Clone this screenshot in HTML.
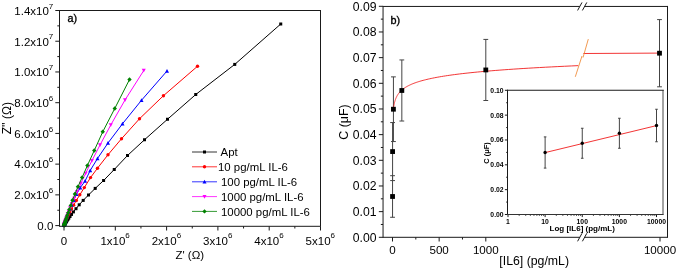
<!DOCTYPE html>
<html lang="en"><head><meta charset="utf-8"><title>Figure</title>
<style>html,body{margin:0;padding:0;background:#fff;}body{width:677px;height:268px;overflow:hidden;}svg{display:block;}</style>
</head><body>
<svg width="677" height="268" viewBox="0 0 677 268" font-family="'Liberation Sans', Arial, sans-serif" font-size="11" fill="#000">
<rect x="0" y="0" width="677" height="268" fill="#fff"/>
<g id="panel-a">
<line x1="55.30" y1="225.60" x2="59.50" y2="225.60" stroke="#1a1a1a" stroke-width="1" />
<line x1="57.30" y1="210.24" x2="59.50" y2="210.24" stroke="#1a1a1a" stroke-width="1" />
<line x1="55.30" y1="194.87" x2="59.50" y2="194.87" stroke="#1a1a1a" stroke-width="1" />
<line x1="57.30" y1="179.51" x2="59.50" y2="179.51" stroke="#1a1a1a" stroke-width="1" />
<line x1="55.30" y1="164.14" x2="59.50" y2="164.14" stroke="#1a1a1a" stroke-width="1" />
<line x1="57.30" y1="148.78" x2="59.50" y2="148.78" stroke="#1a1a1a" stroke-width="1" />
<line x1="55.30" y1="133.41" x2="59.50" y2="133.41" stroke="#1a1a1a" stroke-width="1" />
<line x1="57.30" y1="118.05" x2="59.50" y2="118.05" stroke="#1a1a1a" stroke-width="1" />
<line x1="55.30" y1="102.69" x2="59.50" y2="102.69" stroke="#1a1a1a" stroke-width="1" />
<line x1="57.30" y1="87.32" x2="59.50" y2="87.32" stroke="#1a1a1a" stroke-width="1" />
<line x1="55.30" y1="71.96" x2="59.50" y2="71.96" stroke="#1a1a1a" stroke-width="1" />
<line x1="57.30" y1="56.59" x2="59.50" y2="56.59" stroke="#1a1a1a" stroke-width="1" />
<line x1="55.30" y1="41.23" x2="59.50" y2="41.23" stroke="#1a1a1a" stroke-width="1" />
<line x1="57.30" y1="25.86" x2="59.50" y2="25.86" stroke="#1a1a1a" stroke-width="1" />
<line x1="55.30" y1="10.50" x2="59.50" y2="10.50" stroke="#1a1a1a" stroke-width="1" />
<line x1="64.00" y1="226.30" x2="64.00" y2="230.50" stroke="#1a1a1a" stroke-width="1" />
<line x1="89.65" y1="226.30" x2="89.65" y2="228.50" stroke="#1a1a1a" stroke-width="1" />
<line x1="115.30" y1="226.30" x2="115.30" y2="230.50" stroke="#1a1a1a" stroke-width="1" />
<line x1="140.95" y1="226.30" x2="140.95" y2="228.50" stroke="#1a1a1a" stroke-width="1" />
<line x1="166.60" y1="226.30" x2="166.60" y2="230.50" stroke="#1a1a1a" stroke-width="1" />
<line x1="192.25" y1="226.30" x2="192.25" y2="228.50" stroke="#1a1a1a" stroke-width="1" />
<line x1="217.90" y1="226.30" x2="217.90" y2="230.50" stroke="#1a1a1a" stroke-width="1" />
<line x1="243.55" y1="226.30" x2="243.55" y2="228.50" stroke="#1a1a1a" stroke-width="1" />
<line x1="269.20" y1="226.30" x2="269.20" y2="230.50" stroke="#1a1a1a" stroke-width="1" />
<line x1="294.85" y1="226.30" x2="294.85" y2="228.50" stroke="#1a1a1a" stroke-width="1" />
<line x1="320.50" y1="226.30" x2="320.50" y2="230.50" stroke="#1a1a1a" stroke-width="1" />
<text x="53.3" y="229.90" text-anchor="end" font-size="11.5">0.0</text>
<text x="53.3" y="199.17" text-anchor="end" font-size="11.5">2.0x10<tspan dy="-6.2" font-size="8">6</tspan></text>
<text x="53.3" y="168.44" text-anchor="end" font-size="11.5">4.0x10<tspan dy="-6.2" font-size="8">6</tspan></text>
<text x="53.3" y="137.71" text-anchor="end" font-size="11.5">6.0x10<tspan dy="-6.2" font-size="8">6</tspan></text>
<text x="53.3" y="106.99" text-anchor="end" font-size="11.5">8.0x10<tspan dy="-6.2" font-size="8">6</tspan></text>
<text x="53.3" y="76.26" text-anchor="end" font-size="11.5">1.0x10<tspan dy="-6.2" font-size="8">7</tspan></text>
<text x="53.3" y="45.53" text-anchor="end" font-size="11.5">1.2x10<tspan dy="-6.2" font-size="8">7</tspan></text>
<text x="53.3" y="14.80" text-anchor="end" font-size="11.5">1.4x10<tspan dy="-6.2" font-size="8">7</tspan></text>
<text x="64.00" y="244.5" text-anchor="middle" font-size="11.5">0</text>
<text x="115.10" y="244.5" text-anchor="middle" font-size="11.5">1x10<tspan dy="-6.2" font-size="8">6</tspan></text>
<text x="166.40" y="244.5" text-anchor="middle" font-size="11.5">2x10<tspan dy="-6.2" font-size="8">6</tspan></text>
<text x="217.70" y="244.5" text-anchor="middle" font-size="11.5">3x10<tspan dy="-6.2" font-size="8">6</tspan></text>
<text x="269.00" y="244.5" text-anchor="middle" font-size="11.5">4x10<tspan dy="-6.2" font-size="8">6</tspan></text>
<text x="320.30" y="244.5" text-anchor="middle" font-size="11.5">5x10<tspan dy="-6.2" font-size="8">6</tspan></text>
<text x="189.8" y="259.2" text-anchor="middle" font-size="11.5">Z' (Ω)</text>
<text transform="translate(10.8,118.2) rotate(-90)" text-anchor="middle" font-size="12">Z'' (Ω)</text>
<text x="67.6" y="22.3" font-size="10.8" stroke="#000" stroke-width="0.35">a)</text>
<polyline points="280.75,24.00 234.75,64.40 195.75,94.50 167.50,119.25 144.50,139.75 127.50,155.50 114.25,169.50 103.60,180.50 95.20,188.40 88.50,195.00 83.20,200.40 79.20,204.80 76.00,208.70 73.40,211.90 71.52,214.43 70.02,216.50 68.81,218.18 67.85,219.56 67.08,220.67 66.46,221.59 65.97,222.33 65.58,222.93 65.26,223.43 65.01,223.83 64.81,224.16 64.65,224.42 64.52,224.64 64.41,224.82 64.33,224.96 64.26,225.08 64.21,225.18 64.17,225.26" fill="none" stroke="#000000" stroke-width="1"/>
<rect x="279.25" y="22.50" width="3.00" height="3.00" fill="#000000"/>
<rect x="233.25" y="62.90" width="3.00" height="3.00" fill="#000000"/>
<rect x="194.25" y="93.00" width="3.00" height="3.00" fill="#000000"/>
<rect x="166.00" y="117.75" width="3.00" height="3.00" fill="#000000"/>
<rect x="143.00" y="138.25" width="3.00" height="3.00" fill="#000000"/>
<rect x="126.00" y="154.00" width="3.00" height="3.00" fill="#000000"/>
<rect x="112.75" y="168.00" width="3.00" height="3.00" fill="#000000"/>
<rect x="102.10" y="179.00" width="3.00" height="3.00" fill="#000000"/>
<rect x="93.70" y="186.90" width="3.00" height="3.00" fill="#000000"/>
<rect x="87.00" y="193.50" width="3.00" height="3.00" fill="#000000"/>
<rect x="81.70" y="198.90" width="3.00" height="3.00" fill="#000000"/>
<rect x="77.70" y="203.30" width="3.00" height="3.00" fill="#000000"/>
<rect x="74.50" y="207.20" width="3.00" height="3.00" fill="#000000"/>
<rect x="71.90" y="210.40" width="3.00" height="3.00" fill="#000000"/>
<rect x="70.02" y="212.93" width="3.00" height="3.00" fill="#000000"/>
<rect x="68.52" y="215.00" width="3.00" height="3.00" fill="#000000"/>
<rect x="67.31" y="216.68" width="3.00" height="3.00" fill="#000000"/>
<rect x="66.35" y="218.06" width="3.00" height="3.00" fill="#000000"/>
<rect x="65.58" y="219.17" width="3.00" height="3.00" fill="#000000"/>
<rect x="64.96" y="220.09" width="3.00" height="3.00" fill="#000000"/>
<rect x="64.47" y="220.83" width="3.00" height="3.00" fill="#000000"/>
<rect x="64.08" y="221.43" width="3.00" height="3.00" fill="#000000"/>
<rect x="63.76" y="221.93" width="3.00" height="3.00" fill="#000000"/>
<rect x="63.51" y="222.33" width="3.00" height="3.00" fill="#000000"/>
<rect x="63.31" y="222.66" width="3.00" height="3.00" fill="#000000"/>
<rect x="63.15" y="222.92" width="3.00" height="3.00" fill="#000000"/>
<rect x="63.02" y="223.14" width="3.00" height="3.00" fill="#000000"/>
<rect x="62.91" y="223.32" width="3.00" height="3.00" fill="#000000"/>
<rect x="62.83" y="223.46" width="3.00" height="3.00" fill="#000000"/>
<rect x="62.76" y="223.58" width="3.00" height="3.00" fill="#000000"/>
<rect x="62.71" y="223.68" width="3.00" height="3.00" fill="#000000"/>
<rect x="62.67" y="223.76" width="3.00" height="3.00" fill="#000000"/>
<polyline points="197.50,66.25 163.40,95.75 139.50,118.75 121.50,138.75 108.00,154.75 97.50,168.20 90.50,177.60 84.30,187.60 79.80,194.80 76.32,200.50 73.61,205.14 71.50,208.93 69.85,212.01 68.56,214.53 67.56,216.57 66.78,218.24 66.16,219.60 65.69,220.71 65.32,221.62 65.03,222.35 64.80,222.95 64.63,223.44 64.49,223.84 64.38,224.17 64.30,224.43 64.23,224.65 64.18,224.82 64.14,224.97 64.11,225.09" fill="none" stroke="#ff0000" stroke-width="1"/>
<circle cx="197.50" cy="66.25" r="1.70" fill="#ff0000"/>
<circle cx="163.40" cy="95.75" r="1.70" fill="#ff0000"/>
<circle cx="139.50" cy="118.75" r="1.70" fill="#ff0000"/>
<circle cx="121.50" cy="138.75" r="1.70" fill="#ff0000"/>
<circle cx="108.00" cy="154.75" r="1.70" fill="#ff0000"/>
<circle cx="97.50" cy="168.20" r="1.70" fill="#ff0000"/>
<circle cx="90.50" cy="177.60" r="1.70" fill="#ff0000"/>
<circle cx="84.30" cy="187.60" r="1.70" fill="#ff0000"/>
<circle cx="79.80" cy="194.80" r="1.70" fill="#ff0000"/>
<circle cx="76.32" cy="200.50" r="1.70" fill="#ff0000"/>
<circle cx="73.61" cy="205.14" r="1.70" fill="#ff0000"/>
<circle cx="71.50" cy="208.93" r="1.70" fill="#ff0000"/>
<circle cx="69.85" cy="212.01" r="1.70" fill="#ff0000"/>
<circle cx="68.56" cy="214.53" r="1.70" fill="#ff0000"/>
<circle cx="67.56" cy="216.57" r="1.70" fill="#ff0000"/>
<circle cx="66.78" cy="218.24" r="1.70" fill="#ff0000"/>
<circle cx="66.16" cy="219.60" r="1.70" fill="#ff0000"/>
<circle cx="65.69" cy="220.71" r="1.70" fill="#ff0000"/>
<circle cx="65.32" cy="221.62" r="1.70" fill="#ff0000"/>
<circle cx="65.03" cy="222.35" r="1.70" fill="#ff0000"/>
<circle cx="64.80" cy="222.95" r="1.70" fill="#ff0000"/>
<circle cx="64.63" cy="223.44" r="1.70" fill="#ff0000"/>
<circle cx="64.49" cy="223.84" r="1.70" fill="#ff0000"/>
<circle cx="64.38" cy="224.17" r="1.70" fill="#ff0000"/>
<circle cx="64.30" cy="224.43" r="1.70" fill="#ff0000"/>
<circle cx="64.23" cy="224.65" r="1.70" fill="#ff0000"/>
<circle cx="64.18" cy="224.82" r="1.70" fill="#ff0000"/>
<circle cx="64.14" cy="224.97" r="1.70" fill="#ff0000"/>
<circle cx="64.11" cy="225.09" r="1.70" fill="#ff0000"/>
<polyline points="167.00,71.00 141.50,100.25 122.50,123.75 108.00,143.00 97.50,158.50 90.20,170.50 85.10,181.00 80.25,187.70 76.50,194.30 73.75,200.18 71.61,204.96 69.93,208.84 68.63,211.99 67.61,214.55 66.81,216.63 66.20,218.31 65.71,219.68 65.34,220.80 65.04,221.70 64.81,222.43 64.63,223.03 64.49,223.51 64.39,223.90 64.30,224.22 64.23,224.48 64.18,224.69 64.14,224.86 64.11,225.00 64.09,225.11" fill="none" stroke="#0000ff" stroke-width="1"/>
<polygon points="167.00,68.90 169.00,72.70 165.00,72.70" fill="#0000ff"/>
<polygon points="141.50,98.15 143.50,101.95 139.50,101.95" fill="#0000ff"/>
<polygon points="122.50,121.65 124.50,125.45 120.50,125.45" fill="#0000ff"/>
<polygon points="108.00,140.90 110.00,144.70 106.00,144.70" fill="#0000ff"/>
<polygon points="97.50,156.40 99.50,160.20 95.50,160.20" fill="#0000ff"/>
<polygon points="90.20,168.40 92.20,172.20 88.20,172.20" fill="#0000ff"/>
<polygon points="85.10,178.90 87.10,182.70 83.10,182.70" fill="#0000ff"/>
<polygon points="80.25,185.60 82.25,189.40 78.25,189.40" fill="#0000ff"/>
<polygon points="76.50,192.20 78.50,196.00 74.50,196.00" fill="#0000ff"/>
<polygon points="73.75,198.08 75.75,201.88 71.75,201.88" fill="#0000ff"/>
<polygon points="71.61,202.86 73.61,206.66 69.61,206.66" fill="#0000ff"/>
<polygon points="69.93,206.74 71.93,210.54 67.93,210.54" fill="#0000ff"/>
<polygon points="68.63,209.89 70.63,213.69 66.63,213.69" fill="#0000ff"/>
<polygon points="67.61,212.45 69.61,216.25 65.61,216.25" fill="#0000ff"/>
<polygon points="66.81,214.53 68.81,218.33 64.81,218.33" fill="#0000ff"/>
<polygon points="66.20,216.21 68.20,220.01 64.20,220.01" fill="#0000ff"/>
<polygon points="65.71,217.58 67.71,221.38 63.71,221.38" fill="#0000ff"/>
<polygon points="65.34,218.70 67.34,222.50 63.34,222.50" fill="#0000ff"/>
<polygon points="65.04,219.60 67.04,223.40 63.04,223.40" fill="#0000ff"/>
<polygon points="64.81,220.33 66.81,224.13 62.81,224.13" fill="#0000ff"/>
<polygon points="64.63,220.93 66.63,224.73 62.63,224.73" fill="#0000ff"/>
<polygon points="64.49,221.41 66.49,225.21 62.49,225.21" fill="#0000ff"/>
<polygon points="64.39,221.80 66.39,225.60 62.39,225.60" fill="#0000ff"/>
<polygon points="64.30,222.12 66.30,225.92 62.30,225.92" fill="#0000ff"/>
<polygon points="64.23,222.38 66.23,226.18 62.23,226.18" fill="#0000ff"/>
<polygon points="64.18,222.59 66.18,226.39 62.18,226.39" fill="#0000ff"/>
<polygon points="64.14,222.76 66.14,226.56 62.14,226.56" fill="#0000ff"/>
<polygon points="64.11,222.90 66.11,226.70 62.11,226.70" fill="#0000ff"/>
<polygon points="64.09,223.01 66.09,226.81 62.09,226.81" fill="#0000ff"/>
<polyline points="143.75,70.50 125.00,100.00 110.75,125.00 100.00,145.00 91.90,160.72 85.62,173.37 80.76,183.55 76.99,191.75 74.06,198.35 71.80,203.67 70.05,207.94 68.69,211.39 67.63,214.16 66.81,216.39 66.18,218.19 65.69,219.63 65.31,220.80 65.02,221.73 64.79,222.49 64.61,223.09 64.47,223.58 64.37,223.98 64.28,224.29 64.22,224.55 64.17,224.75 64.13,224.92 64.10,225.05 64.08,225.16 64.06,225.24 64.05,225.31" fill="none" stroke="#ff00ff" stroke-width="1"/>
<polygon points="143.75,72.60 145.75,68.80 141.75,68.80" fill="#ff00ff"/>
<polygon points="125.00,102.10 127.00,98.30 123.00,98.30" fill="#ff00ff"/>
<polygon points="110.75,127.10 112.75,123.30 108.75,123.30" fill="#ff00ff"/>
<polygon points="100.00,147.10 102.00,143.30 98.00,143.30" fill="#ff00ff"/>
<polygon points="91.90,162.82 93.90,159.02 89.90,159.02" fill="#ff00ff"/>
<polygon points="85.62,175.47 87.62,171.67 83.62,171.67" fill="#ff00ff"/>
<polygon points="80.76,185.65 82.76,181.85 78.76,181.85" fill="#ff00ff"/>
<polygon points="76.99,193.85 78.99,190.05 74.99,190.05" fill="#ff00ff"/>
<polygon points="74.06,200.45 76.06,196.65 72.06,196.65" fill="#ff00ff"/>
<polygon points="71.80,205.77 73.80,201.97 69.80,201.97" fill="#ff00ff"/>
<polygon points="70.05,210.04 72.05,206.24 68.05,206.24" fill="#ff00ff"/>
<polygon points="68.69,213.49 70.69,209.69 66.69,209.69" fill="#ff00ff"/>
<polygon points="67.63,216.26 69.63,212.46 65.63,212.46" fill="#ff00ff"/>
<polygon points="66.81,218.49 68.81,214.69 64.81,214.69" fill="#ff00ff"/>
<polygon points="66.18,220.29 68.18,216.49 64.18,216.49" fill="#ff00ff"/>
<polygon points="65.69,221.73 67.69,217.93 63.69,217.93" fill="#ff00ff"/>
<polygon points="65.31,222.90 67.31,219.10 63.31,219.10" fill="#ff00ff"/>
<polygon points="65.02,223.83 67.02,220.03 63.02,220.03" fill="#ff00ff"/>
<polygon points="64.79,224.59 66.79,220.79 62.79,220.79" fill="#ff00ff"/>
<polygon points="64.61,225.19 66.61,221.39 62.61,221.39" fill="#ff00ff"/>
<polygon points="64.47,225.68 66.47,221.88 62.47,221.88" fill="#ff00ff"/>
<polygon points="64.37,226.08 66.37,222.28 62.37,222.28" fill="#ff00ff"/>
<polygon points="64.28,226.39 66.28,222.59 62.28,222.59" fill="#ff00ff"/>
<polygon points="64.22,226.65 66.22,222.85 62.22,222.85" fill="#ff00ff"/>
<polygon points="64.17,226.85 66.17,223.05 62.17,223.05" fill="#ff00ff"/>
<polygon points="64.13,227.02 66.13,223.22 62.13,223.22" fill="#ff00ff"/>
<polygon points="64.10,227.15 66.10,223.35 62.10,223.35" fill="#ff00ff"/>
<polygon points="64.08,227.26 66.08,223.46 62.08,223.46" fill="#ff00ff"/>
<polygon points="64.06,227.34 66.06,223.54 62.06,223.54" fill="#ff00ff"/>
<polygon points="64.05,227.41 66.05,223.61 62.05,223.61" fill="#ff00ff"/>
<polyline points="129.50,79.50 114.75,108.50 102.75,131.75 94.25,150.50 87.40,165.50 82.10,177.50 77.90,186.80 74.90,194.00 72.50,200.25 70.75,205.40 69.33,209.44 68.21,212.67 67.33,215.26 66.63,217.33 66.08,218.98 65.64,220.30 65.30,221.36 65.02,222.21 64.81,222.89 64.64,223.43 64.50,223.86 64.40,224.21 64.32,224.49 64.25,224.71 64.20,224.89 64.16,225.03 64.12,225.15 64.10,225.24 64.08,225.31 64.06,225.37" fill="none" stroke="#008000" stroke-width="1"/>
<polygon points="129.50,77.30 131.70,79.50 129.50,81.70 127.30,79.50" fill="#008000"/>
<polygon points="114.75,106.30 116.95,108.50 114.75,110.70 112.55,108.50" fill="#008000"/>
<polygon points="102.75,129.55 104.95,131.75 102.75,133.95 100.55,131.75" fill="#008000"/>
<polygon points="94.25,148.30 96.45,150.50 94.25,152.70 92.05,150.50" fill="#008000"/>
<polygon points="87.40,163.30 89.60,165.50 87.40,167.70 85.20,165.50" fill="#008000"/>
<polygon points="82.10,175.30 84.30,177.50 82.10,179.70 79.90,177.50" fill="#008000"/>
<polygon points="77.90,184.60 80.10,186.80 77.90,189.00 75.70,186.80" fill="#008000"/>
<polygon points="74.90,191.80 77.10,194.00 74.90,196.20 72.70,194.00" fill="#008000"/>
<polygon points="72.50,198.05 74.70,200.25 72.50,202.45 70.30,200.25" fill="#008000"/>
<polygon points="70.75,203.20 72.95,205.40 70.75,207.60 68.55,205.40" fill="#008000"/>
<polygon points="69.33,207.24 71.53,209.44 69.33,211.64 67.13,209.44" fill="#008000"/>
<polygon points="68.21,210.47 70.41,212.67 68.21,214.87 66.01,212.67" fill="#008000"/>
<polygon points="67.33,213.06 69.53,215.26 67.33,217.46 65.13,215.26" fill="#008000"/>
<polygon points="66.63,215.13 68.83,217.33 66.63,219.53 64.43,217.33" fill="#008000"/>
<polygon points="66.08,216.78 68.28,218.98 66.08,221.18 63.88,218.98" fill="#008000"/>
<polygon points="65.64,218.10 67.84,220.30 65.64,222.50 63.44,220.30" fill="#008000"/>
<polygon points="65.30,219.16 67.50,221.36 65.30,223.56 63.10,221.36" fill="#008000"/>
<polygon points="65.02,220.01 67.22,222.21 65.02,224.41 62.82,222.21" fill="#008000"/>
<polygon points="64.81,220.69 67.01,222.89 64.81,225.09 62.61,222.89" fill="#008000"/>
<polygon points="64.64,221.23 66.84,223.43 64.64,225.63 62.44,223.43" fill="#008000"/>
<polygon points="64.50,221.66 66.70,223.86 64.50,226.06 62.30,223.86" fill="#008000"/>
<polygon points="64.40,222.01 66.60,224.21 64.40,226.41 62.20,224.21" fill="#008000"/>
<polygon points="64.32,222.29 66.52,224.49 64.32,226.69 62.12,224.49" fill="#008000"/>
<polygon points="64.25,222.51 66.45,224.71 64.25,226.91 62.05,224.71" fill="#008000"/>
<polygon points="64.20,222.69 66.40,224.89 64.20,227.09 62.00,224.89" fill="#008000"/>
<polygon points="64.16,222.83 66.36,225.03 64.16,227.23 61.96,225.03" fill="#008000"/>
<polygon points="64.12,222.95 66.32,225.15 64.12,227.35 61.92,225.15" fill="#008000"/>
<polygon points="64.10,223.04 66.30,225.24 64.10,227.44 61.90,225.24" fill="#008000"/>
<polygon points="64.08,223.11 66.28,225.31 64.08,227.51 61.88,225.31" fill="#008000"/>
<polygon points="64.06,223.17 66.26,225.37 64.06,227.57 61.86,225.37" fill="#008000"/>
<rect x="59.5" y="10.5" width="261.0" height="215.8" fill="none" stroke="#1a1a1a" stroke-width="1"/>
<line x1="192.00" y1="152.00" x2="217.00" y2="152.00" stroke="#000000" stroke-width="0.8" />
<rect x="203.00" y="150.50" width="3.00" height="3.00" fill="#000000"/>
<text x="220.6" y="156.10" font-size="11.4">Apt</text>
<line x1="192.00" y1="166.80" x2="217.00" y2="166.80" stroke="#ff0000" stroke-width="0.8" />
<circle cx="204.50" cy="166.80" r="1.70" fill="#ff0000"/>
<text x="218.0" y="170.90" font-size="11.4">10 pg/mL IL-6</text>
<line x1="192.00" y1="181.80" x2="217.00" y2="181.80" stroke="#0000ff" stroke-width="0.8" />
<polygon points="204.50,179.70 206.50,183.50 202.50,183.50" fill="#0000ff"/>
<text x="221.0" y="185.90" font-size="11.4">100 pg/mL IL-6</text>
<line x1="192.00" y1="196.60" x2="217.00" y2="196.60" stroke="#ff00ff" stroke-width="0.8" />
<polygon points="204.50,198.70 206.50,194.90 202.50,194.90" fill="#ff00ff"/>
<text x="221.0" y="200.70" font-size="11.4">1000 pg/mL IL-6</text>
<line x1="192.00" y1="211.40" x2="217.00" y2="211.40" stroke="#008000" stroke-width="0.8" />
<polygon points="204.50,209.20 206.70,211.40 204.50,213.60 202.30,211.40" fill="#008000"/>
<text x="221.0" y="215.50" font-size="11.4">10000 pg/mL IL-6</text>
</g>
<g id="panel-b">
<line x1="378.85" y1="237.30" x2="383.05" y2="237.30" stroke="#1a1a1a" stroke-width="1" />
<line x1="380.85" y1="224.47" x2="383.05" y2="224.47" stroke="#1a1a1a" stroke-width="1" />
<text x="376.5" y="241.70" text-anchor="end" font-size="12.2">0.00</text>
<line x1="378.85" y1="211.63" x2="383.05" y2="211.63" stroke="#1a1a1a" stroke-width="1" />
<line x1="380.85" y1="198.80" x2="383.05" y2="198.80" stroke="#1a1a1a" stroke-width="1" />
<text x="376.5" y="216.03" text-anchor="end" font-size="12.2">0.01</text>
<line x1="378.85" y1="185.97" x2="383.05" y2="185.97" stroke="#1a1a1a" stroke-width="1" />
<line x1="380.85" y1="173.13" x2="383.05" y2="173.13" stroke="#1a1a1a" stroke-width="1" />
<text x="376.5" y="190.37" text-anchor="end" font-size="12.2">0.02</text>
<line x1="378.85" y1="160.30" x2="383.05" y2="160.30" stroke="#1a1a1a" stroke-width="1" />
<line x1="380.85" y1="147.47" x2="383.05" y2="147.47" stroke="#1a1a1a" stroke-width="1" />
<text x="376.5" y="164.70" text-anchor="end" font-size="12.2">0.03</text>
<line x1="378.85" y1="134.63" x2="383.05" y2="134.63" stroke="#1a1a1a" stroke-width="1" />
<line x1="380.85" y1="121.80" x2="383.05" y2="121.80" stroke="#1a1a1a" stroke-width="1" />
<text x="376.5" y="139.03" text-anchor="end" font-size="12.2">0.04</text>
<line x1="378.85" y1="108.97" x2="383.05" y2="108.97" stroke="#1a1a1a" stroke-width="1" />
<line x1="380.85" y1="96.13" x2="383.05" y2="96.13" stroke="#1a1a1a" stroke-width="1" />
<text x="376.5" y="113.37" text-anchor="end" font-size="12.2">0.05</text>
<line x1="378.85" y1="83.30" x2="383.05" y2="83.30" stroke="#1a1a1a" stroke-width="1" />
<line x1="380.85" y1="70.47" x2="383.05" y2="70.47" stroke="#1a1a1a" stroke-width="1" />
<text x="376.5" y="87.70" text-anchor="end" font-size="12.2">0.06</text>
<line x1="378.85" y1="57.63" x2="383.05" y2="57.63" stroke="#1a1a1a" stroke-width="1" />
<line x1="380.85" y1="44.80" x2="383.05" y2="44.80" stroke="#1a1a1a" stroke-width="1" />
<text x="376.5" y="62.03" text-anchor="end" font-size="12.2">0.07</text>
<line x1="378.85" y1="31.97" x2="383.05" y2="31.97" stroke="#1a1a1a" stroke-width="1" />
<line x1="380.85" y1="19.13" x2="383.05" y2="19.13" stroke="#1a1a1a" stroke-width="1" />
<text x="376.5" y="36.37" text-anchor="end" font-size="12.2">0.08</text>
<line x1="378.85" y1="6.30" x2="383.05" y2="6.30" stroke="#1a1a1a" stroke-width="1" />
<text x="376.5" y="10.70" text-anchor="end" font-size="12.2">0.09</text>
<line x1="392.50" y1="237.30" x2="392.50" y2="241.50" stroke="#1a1a1a" stroke-width="1" />
<text x="392.50" y="254.0" text-anchor="middle" font-size="11.6">0</text>
<line x1="439.15" y1="237.30" x2="439.15" y2="241.50" stroke="#1a1a1a" stroke-width="1" />
<text x="439.15" y="254.0" text-anchor="middle" font-size="11.6">500</text>
<line x1="485.80" y1="237.30" x2="485.80" y2="241.50" stroke="#1a1a1a" stroke-width="1" />
<text x="485.80" y="254.0" text-anchor="middle" font-size="11.6">1000</text>
<line x1="415.82" y1="237.30" x2="415.82" y2="239.50" stroke="#1a1a1a" stroke-width="1" />
<line x1="462.48" y1="237.30" x2="462.48" y2="239.50" stroke="#1a1a1a" stroke-width="1" />
<line x1="660.00" y1="237.30" x2="660.00" y2="241.50" stroke="#1a1a1a" stroke-width="1" />
<text x="660" y="254.0" text-anchor="middle" font-size="11.6">10000</text>
<text x="534.2" y="265.2" text-anchor="middle" font-size="12.3">[IL6] (pg/mL)</text>
<text transform="translate(348.3,122) rotate(-90)" text-anchor="middle" font-size="12.4">C (μF)</text>
<text x="390.6" y="23.6" font-size="10.8" stroke="#000" stroke-width="0.35">b)</text>
<line x1="383.05" y1="5.95" x2="383.05" y2="237.80" stroke="#1a1a1a" stroke-width="1" />
<line x1="667.50" y1="5.95" x2="667.50" y2="237.80" stroke="#1a1a1a" stroke-width="1" />
<line x1="383.05" y1="6.45" x2="579.80" y2="6.45" stroke="#1a1a1a" stroke-width="1" />
<line x1="584.60" y1="6.45" x2="667.50" y2="6.45" stroke="#1a1a1a" stroke-width="1" />
<line x1="383.05" y1="237.30" x2="579.80" y2="237.30" stroke="#1a1a1a" stroke-width="1" />
<line x1="584.60" y1="237.30" x2="667.50" y2="237.30" stroke="#1a1a1a" stroke-width="1" />
<line x1="577.60" y1="10.45" x2="582.00" y2="2.45" stroke="#1a1a1a" stroke-width="1" />
<line x1="582.40" y1="10.45" x2="586.80" y2="2.45" stroke="#1a1a1a" stroke-width="1" />
<line x1="577.60" y1="241.30" x2="582.00" y2="233.30" stroke="#1a1a1a" stroke-width="1" />
<line x1="582.40" y1="241.30" x2="586.80" y2="233.30" stroke="#1a1a1a" stroke-width="1" />
<line x1="392.55" y1="175.70" x2="392.55" y2="217.28" stroke="#444" stroke-width="1" />
<line x1="390.15" y1="175.70" x2="394.95" y2="175.70" stroke="#444" stroke-width="1" />
<line x1="390.15" y1="217.28" x2="394.95" y2="217.28" stroke="#444" stroke-width="1" />
<line x1="392.59" y1="122.57" x2="392.59" y2="180.58" stroke="#444" stroke-width="1" />
<line x1="390.19" y1="122.57" x2="394.99" y2="122.57" stroke="#444" stroke-width="1" />
<line x1="390.19" y1="180.58" x2="394.99" y2="180.58" stroke="#444" stroke-width="1" />
<line x1="393.43" y1="76.88" x2="393.43" y2="141.56" stroke="#444" stroke-width="1" />
<line x1="391.03" y1="76.88" x2="395.83" y2="76.88" stroke="#444" stroke-width="1" />
<line x1="391.03" y1="141.56" x2="395.83" y2="141.56" stroke="#444" stroke-width="1" />
<line x1="401.83" y1="59.94" x2="401.83" y2="121.03" stroke="#444" stroke-width="1" />
<line x1="399.43" y1="59.94" x2="404.23" y2="59.94" stroke="#444" stroke-width="1" />
<line x1="399.43" y1="121.03" x2="404.23" y2="121.03" stroke="#444" stroke-width="1" />
<line x1="485.80" y1="39.41" x2="485.80" y2="100.50" stroke="#444" stroke-width="1" />
<line x1="483.40" y1="39.41" x2="488.20" y2="39.41" stroke="#444" stroke-width="1" />
<line x1="483.40" y1="100.50" x2="488.20" y2="100.50" stroke="#444" stroke-width="1" />
<line x1="659.50" y1="19.60" x2="659.50" y2="86.80" stroke="#444" stroke-width="1" />
<line x1="657.10" y1="19.60" x2="661.90" y2="19.60" stroke="#444" stroke-width="1" />
<line x1="657.10" y1="86.80" x2="661.90" y2="86.80" stroke="#444" stroke-width="1" />
<polyline points="393.43,108.89 393.47,108.57 393.51,108.25 393.55,107.93 393.59,107.61 393.64,107.29 393.68,106.97 393.73,106.65 393.78,106.33 393.83,106.01 393.88,105.69 393.94,105.36 393.99,105.04 394.05,104.72 394.12,104.40 394.18,104.08 394.25,103.76 394.32,103.44 394.39,103.12 394.47,102.80 394.54,102.48 394.63,102.16 394.71,101.84 394.80,101.52 394.89,101.20 394.99,100.88 395.09,100.56 395.19,100.24 395.30,99.92 395.41,99.60 395.53,99.28 395.65,98.96 395.77,98.63 395.90,98.31 396.04,97.99 396.18,97.67 396.33,97.35 396.48,97.03 396.64,96.71 396.81,96.39 396.98,96.07 397.16,95.75 397.34,95.43 397.54,95.11 397.74,94.79 397.95,94.47 398.17,94.15 398.39,93.83 398.63,93.51 398.88,93.19 399.13,92.87 399.40,92.55 399.67,92.23 399.96,91.91 400.26,91.58 400.57,91.26 400.89,90.94 401.23,90.62 401.57,90.30 401.94,89.98 402.31,89.66 402.71,89.34 403.12,89.02 403.54,88.70 403.98,88.38 404.44,88.06 404.92,87.74 405.42,87.42 405.93,87.10 406.47,86.78 407.03,86.46 407.61,86.14 408.21,85.82 408.84,85.50 409.50,85.18 410.18,84.86 410.88,84.53 411.62,84.21 412.38,83.89 413.18,83.57 414.01,83.25 414.87,82.93 415.76,82.61 416.69,82.29 417.66,81.97 418.66,81.65 419.71,81.33 420.80,81.01 421.93,80.69 423.11,80.37 424.33,80.05 425.61,79.73 426.93,79.41 428.31,79.09 429.74,78.77 431.23,78.45 432.78,78.13 434.39,77.81 436.07,77.48 437.81,77.16 439.62,76.84 441.51,76.52 443.47,76.20 445.50,75.88 447.63,75.56 449.83,75.24 452.12,74.92 454.51,74.60 456.99,74.28 459.57,73.96 462.25,73.64 465.04,73.32 467.94,73.00 470.96,72.68 474.10,72.36 477.36,72.04 480.76,71.72 484.29,71.40 487.96,71.08 491.78,70.75 495.75,70.43 499.88,70.11 504.17,69.79 508.64,69.47 513.29,69.15 518.12,68.83 523.14,68.51 528.37,68.19 533.80,67.87 539.45,67.55 545.33,67.23 551.45,66.91 557.80,66.59 564.42,66.27 571.29,65.95 578.30,65.63" fill="none" stroke="#f01010" stroke-width="0.85"/>
<line x1="583.40" y1="53.50" x2="659.50" y2="53.10" stroke="#f01010" stroke-width="0.85" />
<line x1="588.30" y1="39.10" x2="583.00" y2="57.60" stroke="#ee8833" stroke-width="0.85" />
<line x1="582.00" y1="56.00" x2="575.30" y2="76.80" stroke="#ee8833" stroke-width="0.85" />
<rect x="390.15" y="194.09" width="4.8" height="4.8" fill="#000"/>
<rect x="390.19" y="149.17" width="4.8" height="4.8" fill="#000"/>
<rect x="391.03" y="106.82" width="4.8" height="4.8" fill="#000"/>
<rect x="399.43" y="88.09" width="4.8" height="4.8" fill="#000"/>
<rect x="483.40" y="67.55" width="4.8" height="4.8" fill="#000"/>
<rect x="657.10" y="50.80" width="4.8" height="4.8" fill="#000"/>
<rect x="507.5" y="90.3" width="155.5" height="124.2" fill="#fff" stroke="none"/>
<line x1="504.90" y1="214.50" x2="507.50" y2="214.50" stroke="#1a1a1a" stroke-width="1" />
<line x1="506.00" y1="202.08" x2="507.50" y2="202.08" stroke="#1a1a1a" stroke-width="0.8" />
<text x="503.6" y="217.00" text-anchor="end" font-size="6.8" font-weight="bold">0.00</text>
<line x1="504.90" y1="189.66" x2="507.50" y2="189.66" stroke="#1a1a1a" stroke-width="1" />
<line x1="506.00" y1="177.24" x2="507.50" y2="177.24" stroke="#1a1a1a" stroke-width="0.8" />
<text x="503.6" y="192.16" text-anchor="end" font-size="6.8" font-weight="bold">0.02</text>
<line x1="504.90" y1="164.82" x2="507.50" y2="164.82" stroke="#1a1a1a" stroke-width="1" />
<line x1="506.00" y1="152.40" x2="507.50" y2="152.40" stroke="#1a1a1a" stroke-width="0.8" />
<text x="503.6" y="167.32" text-anchor="end" font-size="6.8" font-weight="bold">0.04</text>
<line x1="504.90" y1="139.98" x2="507.50" y2="139.98" stroke="#1a1a1a" stroke-width="1" />
<line x1="506.00" y1="127.56" x2="507.50" y2="127.56" stroke="#1a1a1a" stroke-width="0.8" />
<text x="503.6" y="142.48" text-anchor="end" font-size="6.8" font-weight="bold">0.06</text>
<line x1="504.90" y1="115.14" x2="507.50" y2="115.14" stroke="#1a1a1a" stroke-width="1" />
<line x1="506.00" y1="102.72" x2="507.50" y2="102.72" stroke="#1a1a1a" stroke-width="0.8" />
<text x="503.6" y="117.64" text-anchor="end" font-size="6.8" font-weight="bold">0.08</text>
<line x1="504.90" y1="90.30" x2="507.50" y2="90.30" stroke="#1a1a1a" stroke-width="1" />
<text x="503.6" y="92.80" text-anchor="end" font-size="6.8" font-weight="bold">0.10</text>
<line x1="508.00" y1="214.50" x2="508.00" y2="217.10" stroke="#1a1a1a" stroke-width="1" />
<text x="508.00" y="223.8" text-anchor="middle" font-size="6.8" font-weight="bold">1</text>
<line x1="519.18" y1="214.50" x2="519.18" y2="216.00" stroke="#1a1a1a" stroke-width="0.7" />
<line x1="525.71" y1="214.50" x2="525.71" y2="216.00" stroke="#1a1a1a" stroke-width="0.7" />
<line x1="530.35" y1="214.50" x2="530.35" y2="216.00" stroke="#1a1a1a" stroke-width="0.7" />
<line x1="533.95" y1="214.50" x2="533.95" y2="216.00" stroke="#1a1a1a" stroke-width="0.7" />
<line x1="536.89" y1="214.50" x2="536.89" y2="216.00" stroke="#1a1a1a" stroke-width="0.7" />
<line x1="539.37" y1="214.50" x2="539.37" y2="216.00" stroke="#1a1a1a" stroke-width="0.7" />
<line x1="541.53" y1="214.50" x2="541.53" y2="216.00" stroke="#1a1a1a" stroke-width="0.7" />
<line x1="543.43" y1="214.50" x2="543.43" y2="216.00" stroke="#1a1a1a" stroke-width="0.7" />
<line x1="545.12" y1="214.50" x2="545.12" y2="217.10" stroke="#1a1a1a" stroke-width="1" />
<text x="545.12" y="223.8" text-anchor="middle" font-size="6.8" font-weight="bold">10</text>
<line x1="556.30" y1="214.50" x2="556.30" y2="216.00" stroke="#1a1a1a" stroke-width="0.7" />
<line x1="562.84" y1="214.50" x2="562.84" y2="216.00" stroke="#1a1a1a" stroke-width="0.7" />
<line x1="567.48" y1="214.50" x2="567.48" y2="216.00" stroke="#1a1a1a" stroke-width="0.7" />
<line x1="571.07" y1="214.50" x2="571.07" y2="216.00" stroke="#1a1a1a" stroke-width="0.7" />
<line x1="574.01" y1="214.50" x2="574.01" y2="216.00" stroke="#1a1a1a" stroke-width="0.7" />
<line x1="576.50" y1="214.50" x2="576.50" y2="216.00" stroke="#1a1a1a" stroke-width="0.7" />
<line x1="578.65" y1="214.50" x2="578.65" y2="216.00" stroke="#1a1a1a" stroke-width="0.7" />
<line x1="580.55" y1="214.50" x2="580.55" y2="216.00" stroke="#1a1a1a" stroke-width="0.7" />
<line x1="582.25" y1="214.50" x2="582.25" y2="217.10" stroke="#1a1a1a" stroke-width="1" />
<text x="582.25" y="223.8" text-anchor="middle" font-size="6.8" font-weight="bold">100</text>
<line x1="593.43" y1="214.50" x2="593.43" y2="216.00" stroke="#1a1a1a" stroke-width="0.7" />
<line x1="599.96" y1="214.50" x2="599.96" y2="216.00" stroke="#1a1a1a" stroke-width="0.7" />
<line x1="604.60" y1="214.50" x2="604.60" y2="216.00" stroke="#1a1a1a" stroke-width="0.7" />
<line x1="608.20" y1="214.50" x2="608.20" y2="216.00" stroke="#1a1a1a" stroke-width="0.7" />
<line x1="611.14" y1="214.50" x2="611.14" y2="216.00" stroke="#1a1a1a" stroke-width="0.7" />
<line x1="613.62" y1="214.50" x2="613.62" y2="216.00" stroke="#1a1a1a" stroke-width="0.7" />
<line x1="615.78" y1="214.50" x2="615.78" y2="216.00" stroke="#1a1a1a" stroke-width="0.7" />
<line x1="617.68" y1="214.50" x2="617.68" y2="216.00" stroke="#1a1a1a" stroke-width="0.7" />
<line x1="619.38" y1="214.50" x2="619.38" y2="217.10" stroke="#1a1a1a" stroke-width="1" />
<text x="619.38" y="223.8" text-anchor="middle" font-size="6.8" font-weight="bold">1000</text>
<line x1="630.55" y1="214.50" x2="630.55" y2="216.00" stroke="#1a1a1a" stroke-width="0.7" />
<line x1="637.09" y1="214.50" x2="637.09" y2="216.00" stroke="#1a1a1a" stroke-width="0.7" />
<line x1="641.73" y1="214.50" x2="641.73" y2="216.00" stroke="#1a1a1a" stroke-width="0.7" />
<line x1="645.32" y1="214.50" x2="645.32" y2="216.00" stroke="#1a1a1a" stroke-width="0.7" />
<line x1="648.26" y1="214.50" x2="648.26" y2="216.00" stroke="#1a1a1a" stroke-width="0.7" />
<line x1="650.75" y1="214.50" x2="650.75" y2="216.00" stroke="#1a1a1a" stroke-width="0.7" />
<line x1="652.90" y1="214.50" x2="652.90" y2="216.00" stroke="#1a1a1a" stroke-width="0.7" />
<line x1="654.80" y1="214.50" x2="654.80" y2="216.00" stroke="#1a1a1a" stroke-width="0.7" />
<line x1="656.50" y1="214.50" x2="656.50" y2="217.10" stroke="#1a1a1a" stroke-width="1" />
<text x="656.50" y="223.8" text-anchor="middle" font-size="6.8" font-weight="bold">10000</text>
<text x="582.2" y="230.8" text-anchor="middle" font-size="8" font-weight="bold">Log [IL6] (pg/mL)</text>
<text transform="translate(488.6,153) rotate(-90)" text-anchor="middle" font-size="7.4" font-weight="bold">C (μF)</text>
<line x1="545.12" y1="136.90" x2="545.12" y2="168.10" stroke="#444" stroke-width="1" />
<line x1="543.83" y1="136.90" x2="546.42" y2="136.90" stroke="#444" stroke-width="1" />
<line x1="543.83" y1="168.10" x2="546.42" y2="168.10" stroke="#444" stroke-width="1" />
<line x1="582.25" y1="128.25" x2="582.25" y2="158.25" stroke="#444" stroke-width="1" />
<line x1="580.95" y1="128.25" x2="583.55" y2="128.25" stroke="#444" stroke-width="1" />
<line x1="580.95" y1="158.25" x2="583.55" y2="158.25" stroke="#444" stroke-width="1" />
<line x1="619.38" y1="118.25" x2="619.38" y2="148.25" stroke="#444" stroke-width="1" />
<line x1="618.08" y1="118.25" x2="620.67" y2="118.25" stroke="#444" stroke-width="1" />
<line x1="618.08" y1="148.25" x2="620.67" y2="148.25" stroke="#444" stroke-width="1" />
<line x1="656.50" y1="109.25" x2="656.50" y2="141.75" stroke="#444" stroke-width="1" />
<line x1="655.20" y1="109.25" x2="657.80" y2="109.25" stroke="#444" stroke-width="1" />
<line x1="655.20" y1="141.75" x2="657.80" y2="141.75" stroke="#444" stroke-width="1" />
<line x1="545.12" y1="152.60" x2="656.50" y2="125.60" stroke="#f01010" stroke-width="0.85" />
<circle cx="545.12" cy="152.50" r="1.7" fill="#000"/>
<circle cx="582.25" cy="143.25" r="1.7" fill="#000"/>
<circle cx="619.38" cy="133.25" r="1.7" fill="#000"/>
<circle cx="656.50" cy="125.50" r="1.7" fill="#000"/>
<line x1="663.00" y1="90.30" x2="663.00" y2="214.50" stroke="#8c8c8c" stroke-width="1.6" />
<line x1="507.50" y1="89.80" x2="507.50" y2="215.00" stroke="#1a1a1a" stroke-width="1" />
<line x1="507.00" y1="214.50" x2="663.60" y2="214.50" stroke="#333" stroke-width="1.1" />
<line x1="507.00" y1="90.30" x2="663.80" y2="90.30" stroke="#1a1a1a" stroke-width="1.1" />
</g>
</svg>
</body></html>
